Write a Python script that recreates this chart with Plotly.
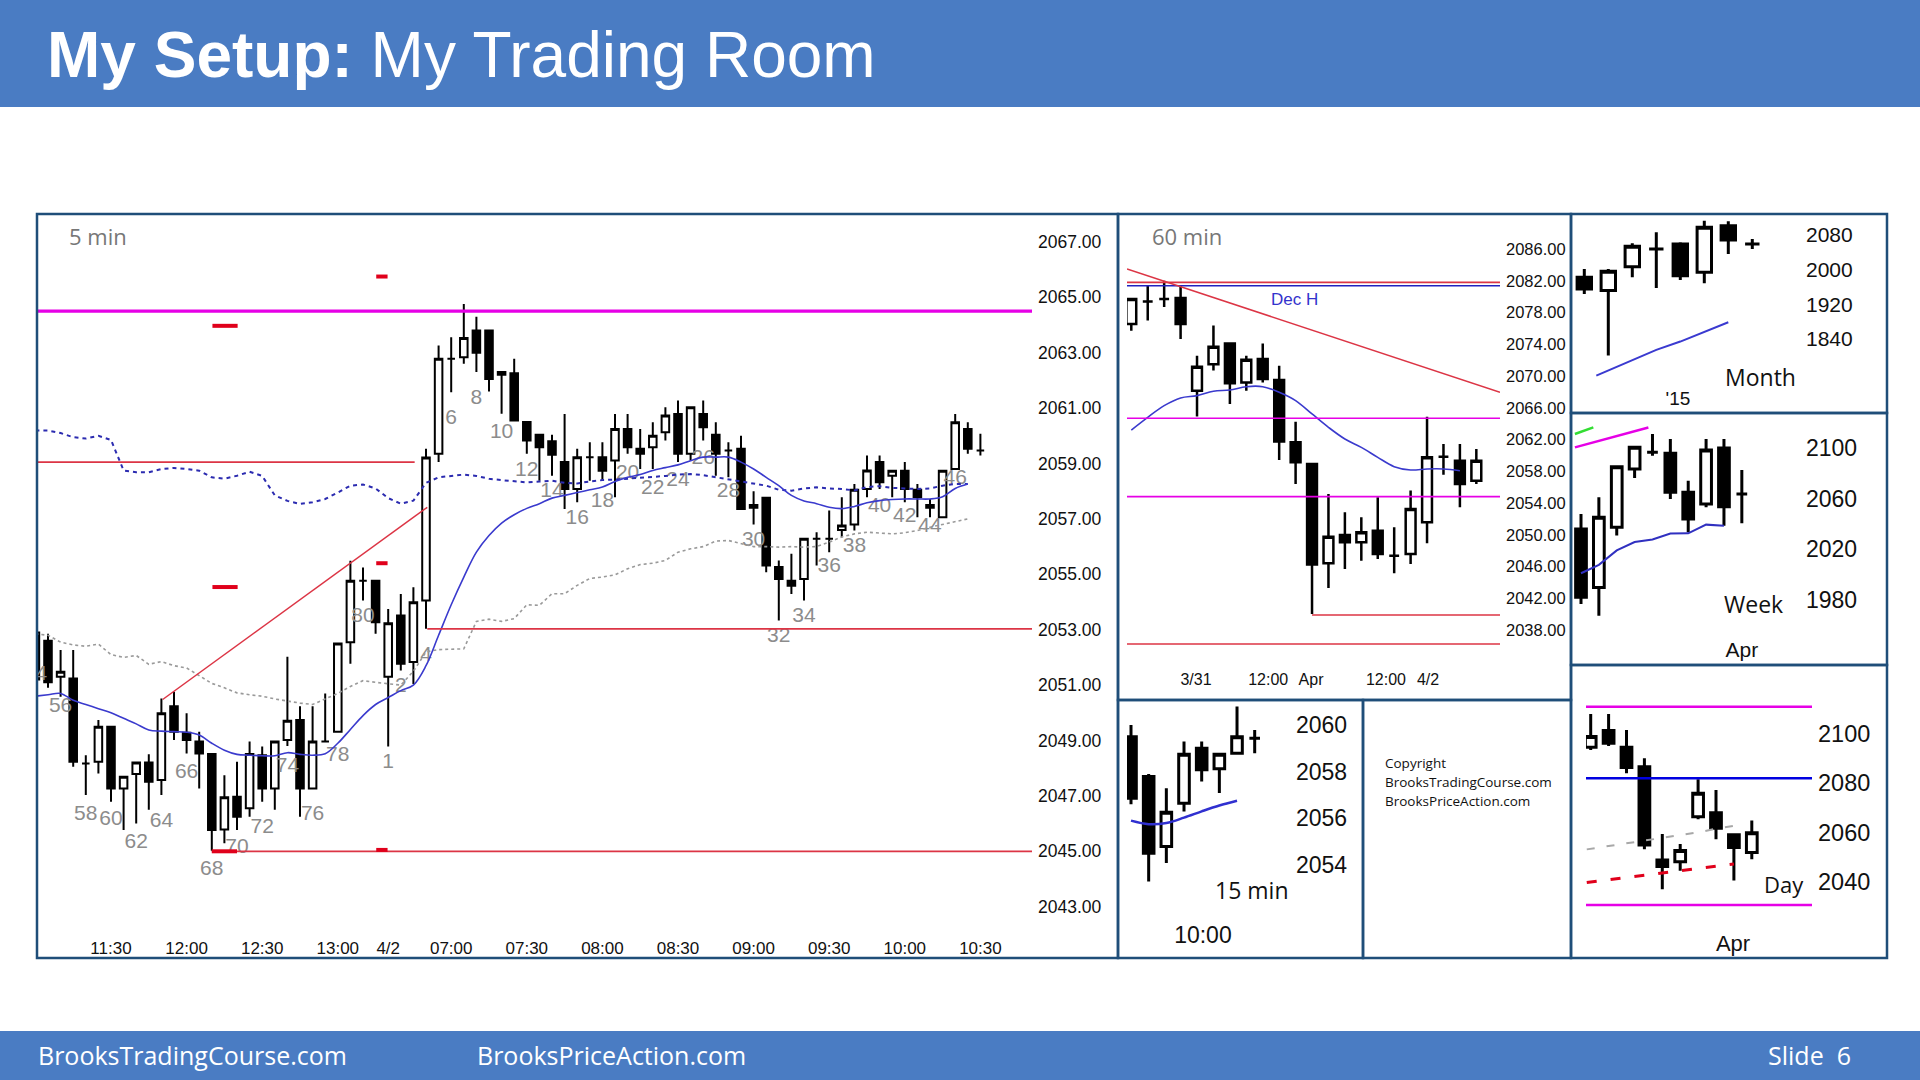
import plotly.graph_objects as go

W, H = 1920, 1080


def fx(x):
    return x / W


def fy(y):
    return 1 - y / H


# ======================= DATA =======================
# ---- 5 min chart: bars 54..81 of 4/1, then bars 1..48 of 4/2 ----
m5_bar_no = list(range(54, 82)) + list(range(1, 49))
m5_open = [2052.9, 2052.6, 2051.3, 2051.24, 2048.17, 2048.23, 2049.5, 2047.27, 2047.79, 2048.21,
           2047.57, 2050.24, 2049.28, 2048.96, 2048.51, 2045.79, 2046.97, 2046.55, 2048.47, 2047.27,
           2049.02, 2049.74, 2047.27, 2048.96, 2049.32, 2052.55, 2054.77, 2054.77,
           2051.3, 2053.51, 2051.83, 2054.05, 2059.35, 2062.78, 2062.84, 2063.8, 2063.8, 2062.2,
           2062.26, 2060.5, 2060.04, 2059.8, 2059.05, 2058.08, 2059.23, 2059.23, 2059.11, 2060.25,
           2059.53, 2059.59, 2060.13, 2060.79, 2059.35, 2060.79, 2060.04, 2059.47, 2059.53, 2057.4,
           2057.76, 2055.26, 2054.77, 2054.83, 2056.28, 2056.28, 2056.6, 2056.8, 2058.08, 2059.05,
           2058.56, 2058.74, 2058.05, 2057.5, 2057.06, 2058.8, 2060.25, 2059.47]
m5_high = [2053.0, 2052.85, 2052.27, 2052.27, 2048.47, 2049.74, 2049.5, 2047.7, 2048.2, 2048.5,
           2050.52, 2050.76, 2049.98, 2049.32, 2048.51, 2047.75, 2048.23, 2048.96, 2048.78, 2048.96,
           2052.02, 2050.24, 2050.24, 2050.7, 2052.5, 2055.49, 2055.25, 2054.77,
           2053.75, 2054.29, 2054.53, 2059.53, 2063.26, 2063.56, 2064.76, 2064.3, 2063.8, 2062.3,
           2062.78, 2060.5, 2060.04, 2060.04, 2060.79, 2059.53, 2059.77, 2059.77, 2060.79, 2060.79,
           2060.25, 2060.49, 2061.03, 2061.27, 2061.03, 2061.27, 2060.49, 2059.77, 2060.0, 2058.0,
           2057.76, 2055.5, 2055.74, 2056.28, 2056.52, 2057.3, 2057.78, 2058.26, 2059.29, 2059.29,
           2058.75, 2059.05, 2058.26, 2057.72, 2058.74, 2060.79, 2060.49, 2060.07]
m5_low = [2051.0, 2050.9, 2050.58, 2048.05, 2047.03, 2047.81, 2046.79, 2045.77, 2046.0, 2046.5,
          2047.03, 2049.02, 2048.53, 2047.27, 2045.02, 2045.29, 2045.77, 2046.25, 2046.79, 2046.5,
          2048.8, 2046.25, 2047.27, 2048.96, 2049.32, 2051.77, 2054.05, 2052.85,
          2048.78, 2051.53, 2051.04, 2053.03, 2059.05, 2061.57, 2062.6, 2062.3, 2061.6, 2060.8,
          2060.55, 2059.35, 2058.38, 2058.56, 2057.36, 2057.6, 2058.38, 2058.38, 2057.78, 2059.35,
          2058.8, 2058.8, 2059.83, 2059.05, 2059.11, 2059.83, 2058.56, 2058.5, 2057.36, 2056.8,
          2055.07, 2053.33, 2054.29, 2054.05, 2055.32, 2055.8, 2056.34, 2056.58, 2057.78, 2058.08,
          2057.78, 2057.6, 2057.06, 2057.06, 2057.06, 2058.8, 2059.35, 2059.29]
m5_close = [2051.2, 2051.1, 2051.48, 2048.23, 2048.17, 2049.5, 2047.27, 2047.69, 2048.21, 2047.51,
            2049.98, 2049.32, 2049.02, 2048.53, 2045.77, 2046.95, 2046.25, 2048.51, 2047.27, 2048.96,
            2049.71, 2047.27, 2048.96, 2048.96, 2052.5, 2054.77, 2054.77, 2053.27,
            2053.23, 2051.77, 2053.99, 2059.22, 2062.78, 2062.78, 2063.53, 2063.0, 2062.05, 2062.3,
            2060.55, 2059.83, 2059.59, 2059.32, 2058.08, 2059.23, 2059.23, 2058.74, 2060.25, 2059.59,
            2059.35, 2060.0, 2060.73, 2059.35, 2061.03, 2060.31, 2059.35, 2059.47, 2057.36, 2057.5,
            2055.32, 2054.83, 2054.59, 2056.28, 2056.28, 2056.28, 2056.76, 2058.05, 2058.75, 2058.32,
            2058.74, 2058.08, 2057.78, 2057.4, 2058.74, 2060.49, 2059.53, 2059.47]
# 20 bar EMA and the two dotted envelope lines (values per bar)
m5_ema = [2050.6, 2050.65, 2050.7, 2050.45, 2050.3, 2050.15, 2050.0, 2049.8, 2049.6, 2049.38,
          2049.34, 2049.32, 2049.3, 2049.2, 2048.9, 2048.65, 2048.5, 2048.47, 2048.45, 2048.45,
          2048.56, 2048.5, 2048.47, 2048.52, 2048.9, 2049.4, 2049.9, 2050.3, 2050.55, 2050.8,
          2051.0, 2051.7, 2052.8, 2053.9, 2054.9, 2055.8, 2056.4, 2056.85, 2057.15, 2057.38,
          2057.55, 2057.75, 2057.85, 2057.95, 2058.05, 2058.15, 2058.35, 2058.5, 2058.6, 2058.75,
          2058.85, 2058.95, 2059.1, 2059.23, 2059.23, 2059.23, 2059.05, 2058.8, 2058.5, 2058.2,
          2057.85, 2057.65, 2057.55, 2057.42, 2057.37, 2057.45, 2057.58, 2057.66, 2057.7, 2057.72,
          2057.72, 2057.72, 2057.8, 2058.1, 2058.26]
m5_upper = [2060.19, 2060.19, 2060.1, 2059.95, 2059.9, 2060.0, 2059.85, 2058.75, 2058.68, 2058.68,
            2058.8, 2058.84, 2058.8, 2058.74, 2058.5, 2058.45, 2058.56, 2058.7, 2058.55, 2057.85,
            2057.65, 2057.54, 2057.6, 2057.72, 2057.95, 2058.2, 2058.24, 2058.1, 2057.75, 2057.55,
            2057.66, 2058.3, 2058.5, 2058.55, 2058.6, 2058.55, 2058.45, 2058.4, 2058.35, 2058.32,
            2058.35, 2058.38, 2058.3, 2058.28, 2058.35, 2058.4, 2058.42, 2058.45, 2058.47, 2058.5,
            2058.55, 2058.6, 2058.62, 2058.58, 2058.5, 2058.42, 2058.35, 2058.28, 2058.2, 2058.05,
            2058.02, 2058.1, 2058.14, 2058.1, 2058.08, 2058.03, 2058.15, 2058.18, 2058.12, 2058.1,
            2058.08, 2058.1, 2058.2, 2058.26, 2058.26]
m5_lower = [2052.85, 2052.8, 2052.55, 2052.45, 2052.4, 2052.48, 2052.1, 2052.0, 2052.07, 2051.75,
            2051.85, 2051.7, 2051.62, 2051.35, 2051.06, 2050.9, 2050.72, 2050.65, 2050.6, 2050.5,
            2050.42, 2050.35, 2050.3, 2050.5, 2050.7, 2050.95, 2051.16, 2051.1, 2051.05, 2051.0,
            2051.5, 2052.2, 2052.28, 2052.3, 2052.31, 2053.3, 2053.38, 2053.3, 2053.4, 2053.9,
            2053.88, 2054.3, 2054.3, 2054.6, 2054.85, 2054.9, 2054.98, 2055.2, 2055.35, 2055.4,
            2055.5, 2055.8, 2055.92, 2056.0, 2056.2, 2056.22, 2056.1, 2056.0, 2056.0, 2055.98,
            2056.0, 2055.98, 2056.0, 2056.16, 2056.35, 2056.46, 2056.52, 2056.5, 2056.46, 2056.5,
            2056.58, 2056.7, 2056.8, 2056.9, 2057.0]
# bar-number labels: bar number and price level where the label sits
m5_lbl_bar = [54, 56, 58, 60, 62, 64, 66, 68, 70, 72, 74, 76, 78, 80,
              1, 2, 4, 6, 8, 10, 12, 14, 16, 18, 20, 22, 24, 26, 28, 30, 32, 34, 36, 38, 40, 42, 44, 46]
m5_lbl_price = [2051.36, 2050.21, 2046.31, 2046.14, 2045.3, 2046.06, 2047.83, 2044.32, 2045.12, 2045.85,
                2048.05, 2046.31, 2048.44, 2053.46,
                2048.19, 2050.94, 2052.05, 2060.6, 2061.33, 2060.1, 2058.73, 2057.97, 2057.0, 2057.61,
                2058.62, 2058.08, 2058.37, 2059.16, 2057.97, 2056.2, 2052.74, 2053.46, 2055.27, 2055.99,
                2057.43, 2057.07, 2056.71, 2058.44]
m5_time_labels = ["11:30", "12:00", "12:30", "13:00", "4/2", "07:00", "07:30", "08:00",
                  "08:30", "09:00", "09:30", "10:00", "10:30"]
m5_time_bars = [60, 66, 72, 78, 1, 6, 12, 18, 24, 30, 36, 42, 48]
m5_price_ticks = list(range(2043, 2068, 2))
# support / resistance lines (bar index where they start / end; None = chart edge)
m5_magenta_level = 2064.5
m5_red_levels = [2059.05, 2053.03, 2045.0]
m5_red_from = [None, 31.1, 14.0]
m5_red_to = [30.1, None, None]
m5_trend_x = [10.1, 31.1]
m5_trend_y = [2050.48, 2057.42]
m5_mark_x = [27.5, 15.05, 15.05, 27.5, 27.5, 15.0]
m5_mark_y = [2065.75, 2063.97, 2054.54, 2055.4, 2045.05, 2045.0]
m5_mark_half = [0.45, 1.0, 1.0, 0.45, 0.45, 1.0]

# ---- 60 min chart ----
h60_open = [2076.56, 2079.4, 2079.7, 2079.83, 2068.16, 2071.5, 2074.1, 2069.2, 2072.15, 2069.5, 2061.65,
            2058.92, 2046.41, 2049.98, 2049.06, 2050.53, 2047.38, 2047.59, 2051.58, 2059.85, 2059.34, 2056.82]
h60_high = [2079.7, 2081.4, 2082.0, 2081.4, 2072.57, 2076.35, 2074.25, 2072.57, 2074.1, 2071.3, 2064.25,
            2059.0, 2055.15, 2052.83, 2052.2, 2054.73, 2050.95, 2055.57, 2064.88, 2061.44, 2061.44, 2060.81]
h60_low = [2075.7, 2077.0, 2078.7, 2074.67, 2064.9, 2070.7, 2066.48, 2068.16, 2069.2, 2059.43, 2056.4,
           2040.03, 2043.3, 2045.7, 2046.75, 2046.96, 2045.15, 2046.33, 2048.93, 2057.58, 2053.47, 2056.4]
h60_close = [2079.7, 2079.4, 2079.7, 2076.56, 2071.18, 2073.7, 2069.08, 2072.06, 2069.63, 2061.74, 2059.13,
             2046.25, 2049.77, 2049.06, 2050.32, 2047.59, 2047.38, 2053.25, 2059.76, 2059.85, 2056.4, 2059.34]
h60_ema = [2063.2, 2064.8, 2066.27, 2067.24, 2067.53, 2068.08, 2068.24, 2068.66, 2068.66, 2067.95, 2066.9,
           2065.22, 2063.54, 2062.07, 2061.02, 2059.76, 2058.59, 2058.17, 2058.3, 2058.3, 2058.08]
h60_price_ticks = list(range(2038, 2087, 4))
h60_time_labels = ["3/31", "12:00", "Apr", "12:00", "4/2"]
h60_time_pos = [3.94, 8.33, 10.94, 15.5, 18.06]
h60_trend_x = [-0.26, 22.44]
h60_trend_y = [2083.48, 2067.95]
h60_red_levels = [2081.8, 2036.25, 2039.9]
h60_red_from = [None, None, 11.0]
h60_blue_level = 2081.38
h60_magenta_levels = [2064.68, 2054.81]
h60_dech = (9.96, 2079.7)

# ---- 15 min chart ----
m15_open = [2059.5, 2057.79, 2054.79, 2056.65, 2059.0, 2058.12, 2058.79, 2059.43]
m15_high = [2060.0, 2057.9, 2057.29, 2059.29, 2059.29, 2058.75, 2060.79, 2059.79]
m15_low = [2056.6, 2053.29, 2054.08, 2056.29, 2057.58, 2057.08, 2058.79, 2058.79]
m15_close = [2056.86, 2054.5, 2056.26, 2058.75, 2058.08, 2058.75, 2059.5, 2059.43]
m15_ema = [2055.9, 2055.75, 2055.8, 2056.03, 2056.3, 2056.55, 2056.75]
m15_price_ticks = [2054, 2056, 2058, 2060]

# ---- monthly chart ----
mo_open = [1982.0, 1951.4, 2006.5, 2047.1, 2058.6, 1993.5, 2100.8, 2058.6]
mo_high = [2001.2, 2001.2, 2060.2, 2085.5, 2062.5, 2112.3, 2110.7, 2070.1]
mo_low = [1943.7, 1801.9, 1982.0, 1957.5, 1975.9, 1968.2, 2035.6, 2047.1]
mo_close = [1955.2, 1995.8, 2053.3, 2047.1, 1985.8, 2096.9, 2067.8, 2058.6]
mo_ema_x = [0.5, 1, 2, 3, 4, 5, 6]
mo_ema = [1755.9, 1767.4, 1790.4, 1815.0, 1834.1, 1855.6, 1878.6]
mo_price_ticks = [1840, 1920, 2000, 2080]

# ---- weekly chart ----
wk_open = [2035.8, 1989.6, 2037.2, 2083.4, 2096.6, 2095.8, 2064.9, 2055.6, 2100.0, 2063.6]
wk_high = [2047.7, 2060.9, 2085.2, 2101.8, 2111.1, 2107.1, 2074.1, 2107.1, 2107.1, 2082.6]
wk_low = [1976.4, 1967.2, 2030.6, 2076.2, 2093.9, 2059.6, 2033.2, 2053.0, 2038.5, 2040.3]
wk_close = [1981.7, 2045.1, 2085.2, 2100.5, 2096.6, 2064.9, 2043.8, 2098.4, 2053.5, 2063.6]
wk_ema = [2000.8, 2007.5, 2018.9, 2025.5, 2027.6, 2032.3, 2032.4, 2039.3, 2038.5]
wk_price_ticks = [1980, 2020, 2060, 2100]
wk_green_x, wk_green_y = [-0.34, 0.69], [2111.1, 2116.3]
wk_magenta_x, wk_magenta_y = [-0.34, 3.77], [2100.5, 2116.3]

# ---- daily chart ----
dy_open = [2094.6, 2101.4, 2094.6, 2086.7, 2048.8, 2048.1, 2066.4, 2068.0, 2059.0, 2051.8]
dy_high = [2108.1, 2108.1, 2101.6, 2090.1, 2059.4, 2055.3, 2081.6, 2077.2, 2059.0, 2064.8]
dy_low = [2093.5, 2095.1, 2084.0, 2053.1, 2036.9, 2044.4, 2065.3, 2057.2, 2040.4, 2049.1]
dy_close = [2099.0, 2096.2, 2086.4, 2054.9, 2046.1, 2052.6, 2075.9, 2061.7, 2053.9, 2059.9]
dy_price_ticks = [2040, 2060, 2080, 2100]
dy_magenta_levels = [2111.1, 2030.5]
dy_blue_level = 2082.0
dy_line_x = [-0.22, 0, 1, 2, 3, 4, 5, 6, 7, 8]
dy_gray = [2053.1, 2053.35, 2054.4, 2055.6, 2056.7, 2057.7, 2058.9, 2060.0, 2061.5, 2062.7]
dy_red = [2039.6, 2039.8, 2040.7, 2041.7, 2042.6, 2043.5, 2044.4, 2045.3, 2046.3, 2047.2]

# ======================= LAYOUT GEOMETRY =======================
# each panel: x-domain px, y-domain px (top, bottom), x calibration (px of bar 0, px per bar),
# y calibration (price, its pixel row, px per point)
P = {
    1: dict(xd=(38, 1032), yd=(215, 936), px0=35.4, step=12.6, pref=2065, pyref=297.3, k=27.7),
    2: dict(xd=(1127, 1500), yd=(215, 668), px0=1131.3, step=16.43, pref=2086, pyref=249, k=7.94),
    3: dict(xd=(1127, 1290), yd=(702, 919), px0=1131, step=17.67, pref=2060, pyref=725, k=23.33),
    4: dict(xd=(1573, 1800), yd=(216, 385), px0=1584.3, step=24.0, pref=2080, pyref=234.7, k=0.4346),
    5: dict(xd=(1573, 1800), yd=(416, 635), px0=1581, step=17.87, pref=2100, pyref=448, k=1.2625),
    6: dict(xd=(1586, 1812), yd=(668, 928), px0=1590.7, step=17.9, pref=2100, pyref=734, k=2.46),
}
for p in P.values():
    p['xr'] = [(p['xd'][0] - p['px0']) / p['step'], (p['xd'][1] - p['px0']) / p['step']]
    p['yr'] = [p['pref'] - (p['yd'][1] - p['pyref']) / p['k'], p['pref'] + (p['pyref'] - p['yd'][0]) / p['k']]

TICKF = "Liberation Sans, Arial, sans-serif"
TEXTF = "Open Sans, sans-serif"
BLUE_BAND = "#4a7cc3"
FRAME = "#1f4e79"
RED = "#dc3545"
MAGENTA = "#e600e6"
EMA_BLUE = "#3a3acd"

fig = go.Figure()


def ax(n):
    return ('x' if n == 1 else f'x{n}'), ('y' if n == 1 else f'y{n}')


def candles(o, h, l, c, n, lw):
    xa, ya = ax(n)
    return go.Candlestick(
        x=list(range(len(o))), open=o, high=h, low=l, close=c, xaxis=xa, yaxis=ya,
        increasing=dict(line=dict(color='black', width=lw), fillcolor='white'),
        decreasing=dict(line=dict(color='black', width=lw), fillcolor='black'),
        whiskerwidth=0, hoverinfo='skip', showlegend=False)


def line(xs, ys, n, color, width, dash=None, shape='linear'):
    xa, ya = ax(n)
    return go.Scatter(x=xs, y=ys, mode='lines', xaxis=xa, yaxis=ya,
                      line=dict(color=color, width=width, dash=dash, shape=shape),
                      hoverinfo='skip', showlegend=False, connectgaps=False)


def hlines(levels, starts, ends, n):
    xr = P[n]['xr']
    xs, ys = [], []
    for lv, a, b in zip(levels, starts, ends):
        xs += [xr[0] if a is None else a, xr[1] if b is None else b, None]
        ys += [lv, lv, None]
    return xs, ys


# ---------- 5 min ----------
m5_idx = list(range(len(m5_open)))
fig.add_trace(go.Scatter(
    x=[m5_bar_no.index(b) for b in m5_lbl_bar], y=m5_lbl_price, text=[str(b) for b in m5_lbl_bar],
    mode='text', textfont=dict(family=TICKF, size=21, color='#8c8c8c'),
    xaxis='x', yaxis='y', hoverinfo='skip', showlegend=False, cliponaxis=True))
fig.add_trace(candles(m5_open, m5_high, m5_low, m5_close, 1, 2))
fig.add_trace(line(list(range(len(m5_lower))), m5_lower, 1, '#9a9a9a', 1.6, dash='3px,3px'))
fig.add_trace(line(list(range(len(m5_upper))), m5_upper, 1, '#2b2bb0', 2, dash='4px,4px'))
fig.add_trace(line(list(range(len(m5_ema))), m5_ema, 1, EMA_BLUE, 1.6, shape='spline'))
xs, ys = hlines(m5_red_levels, m5_red_from, m5_red_to, 1)
fig.add_trace(line(xs, ys, 1, RED, 1.8))
fig.add_trace(line(m5_trend_x, m5_trend_y, 1, RED, 1.5))
xs, ys = hlines([m5_magenta_level], [None], [None], 1)
fig.add_trace(line(xs, ys, 1, MAGENTA, 3.2))
mx, my = [], []
for x0, y0, hw in zip(m5_mark_x, m5_mark_y, m5_mark_half):
    mx += [x0 - hw, x0 + hw, None]
    my += [y0, y0, None]
fig.add_trace(line(mx, my, 1, '#e0001b', 4))

# ---------- 60 min ----------
fig.add_trace(candles(h60_open, h60_high, h60_low, h60_close, 2, 2.5))
fig.add_trace(line(list(range(len(h60_ema))), h60_ema, 2, EMA_BLUE, 1.6, shape='spline'))
xs, ys = hlines(h60_magenta_levels, [None, None], [None, None], 2)
fig.add_trace(line(xs, ys, 2, MAGENTA, 1.6))
xs, ys = hlines(h60_red_levels, h60_red_from, [None] * 3, 2)
fig.add_trace(line(xs, ys, 2, RED, 1.6))
xs, ys = hlines([h60_blue_level], [None], [None], 2)
fig.add_trace(line(xs, ys, 2, '#2020c0', 1.6))
fig.add_trace(line(h60_trend_x, h60_trend_y, 2, RED, 1.6))

# ---------- 15 min ----------
fig.add_trace(candles(m15_open, m15_high, m15_low, m15_close, 3, 3))
fig.add_trace(line(list(range(len(m15_ema))), m15_ema, 3, '#3030d0', 2.5, shape='spline'))

# ---------- month ----------
fig.add_trace(candles(mo_open, mo_high, mo_low, mo_close, 4, 3))
fig.add_trace(line(mo_ema_x, mo_ema, 4, '#3a3ad0', 2))

# ---------- week ----------
fig.add_trace(candles(wk_open, wk_high, wk_low, wk_close, 5, 3))
fig.add_trace(line(list(range(len(wk_ema))), wk_ema, 5, '#3030c0', 2))
fig.add_trace(line(wk_magenta_x, wk_magenta_y, 5, MAGENTA, 2.5))
fig.add_trace(line(wk_green_x, wk_green_y, 5, '#33dd33', 2.5))

# ---------- day ----------
fig.add_trace(candles(dy_open, dy_high, dy_low, dy_close, 6, 3))
xs, ys = hlines(dy_magenta_levels, [None, None], [None, None], 6)
fig.add_trace(line(xs, ys, 6, MAGENTA, 2.5))
xs, ys = hlines([dy_blue_level], [None], [None], 6)
fig.add_trace(line(xs, ys, 6, '#0000e0', 2.5))
fig.add_trace(line(dy_line_x, dy_gray, 6, '#a8a8a8', 2, dash='8px,12px'))
fig.add_trace(line(dy_line_x, dy_red, 6, '#e0001b', 3, dash='10px,14px'))

# ======================= AXES =======================
axis_ticks = {
    1: dict(yv=m5_price_ticks, yfmt='.2f', yfs=17.5,
            xv=[m5_bar_no.index(b) for b in m5_time_bars], xt=m5_time_labels, xfs=17),
    2: dict(yv=h60_price_ticks, yfmt='.2f', yfs=16.5, xv=h60_time_pos, xt=h60_time_labels, xfs=16),
    3: dict(yv=m15_price_ticks, yfmt='d', yfs=23, xv=[4.07], xt=["10:00"], xfs=23),
    4: dict(yv=mo_price_ticks, yfmt='d', yfs=21, xv=[3.9], xt=["'15"], xfs=19),
    5: dict(yv=wk_price_ticks, yfmt='d', yfs=23, xv=[9.0], xt=["Apr"], xfs=21),
    6: dict(yv=dy_price_ticks, yfmt='d', yfs=23.5, xv=[7.95], xt=["Apr"], xfs=22),
}
layout_axes = {}
for n, p in P.items():
    t = axis_ticks[n]
    xa, ya = ax(n)
    xkey = 'xaxis' if n == 1 else f'xaxis{n}'
    ykey = 'yaxis' if n == 1 else f'yaxis{n}'
    layout_axes[xkey] = dict(
        domain=[fx(p['xd'][0]), fx(p['xd'][1])], range=p['xr'], type='linear', anchor=ya,
        showgrid=False, zeroline=False, showline=False, ticks='', fixedrange=True,
        tickmode='array', tickvals=t['xv'], ticktext=t['xt'],
        tickfont=dict(family=TICKF, size=t['xfs'], color='#111111'),
        rangeslider=dict(visible=False))
    layout_axes[ykey] = dict(
        domain=[fy(p['yd'][1]), fy(p['yd'][0])], range=p['yr'], type='linear', anchor=xa,
        side='right', showgrid=False, zeroline=False, showline=False, ticks='', fixedrange=True,
        tickmode='array', tickvals=t['yv'], tickformat=t['yfmt'], ticklabelstandoff=5,
        tickfont=dict(family=TICKF, size=t['yfs'], color='#111111'))

# ======================= DECORATION =======================
shapes = [
    dict(type='rect', xref='paper', yref='paper', x0=0, x1=1, y0=fy(107), y1=1,
         fillcolor=BLUE_BAND, line=dict(width=0), layer='below'),
    dict(type='rect', xref='paper', yref='paper', x0=0, x1=1, y0=0, y1=fy(1031),
         fillcolor=BLUE_BAND, line=dict(width=0), layer='below'),
]
for (x0, y0, x1, y1) in [(37, 214, 1118, 958), (1118, 214, 1571, 700), (1118, 700, 1363, 958),
                         (1363, 700, 1571, 958), (1571, 214, 1887, 413), (1571, 413, 1887, 665),
                         (1571, 665, 1887, 958)]:
    shapes.append(dict(type='rect', xref='paper', yref='paper', x0=fx(x0), x1=fx(x1),
                       y0=fy(y1), y1=fy(y0), line=dict(color=FRAME, width=2.5), layer='above'))


def note(text, x, y, size, color, family=TEXTF, xanchor='center'):
    return dict(text=text, x=fx(x), y=fy(y), xref='paper', yref='paper', showarrow=False,
                xanchor=xanchor, yanchor='middle', font=dict(family=family, size=size, color=color))


annotations = [
    note("<b>My Setup:</b> My Trading Room", 45, 55, 64, 'white', family=TICKF, xanchor='left'),
    note("BrooksTradingCourse.com", 36, 1055, 25, 'white', xanchor='left'),
    note("BrooksPriceAction.com", 475, 1055, 25, 'white', xanchor='left'),
    note("Slide  6", 1766, 1055, 25, 'white', xanchor='left'),
    note("5 min", 98, 236, 22, '#777777'),
    note("60 min", 1187, 236, 22, '#777777'),
    note("15 min", 1251, 890, 23, '#111111'),
    note("Month", 1760, 377, 23, '#111111'),
    note("Week", 1753, 604, 23, '#111111'),
    note("Day", 1784, 884, 22, '#111111'),
    note("Copyright", 1383, 763, 13.5, '#111111', xanchor='left'),
    note("BrooksTradingCourse.com", 1383, 782, 13.5, '#111111', xanchor='left'),
    note("BrooksPriceAction.com", 1383, 801, 13.5, '#111111', xanchor='left'),
    dict(text="Dec H", x=h60_dech[0], y=h60_dech[1], xref='x2', yref='y2', showarrow=False,
         font=dict(family=TICKF, size=17, color='#3333cc')),
]

fig.update_layout(
    width=W, height=H, autosize=False, margin=dict(l=0, r=0, t=0, b=0),
    paper_bgcolor='white', plot_bgcolor='white', showlegend=False,
    boxgap=0.4, boxgroupgap=0, hovermode=False,
    shapes=shapes, annotations=annotations, **layout_axes)

fig.write_html("out.html")
